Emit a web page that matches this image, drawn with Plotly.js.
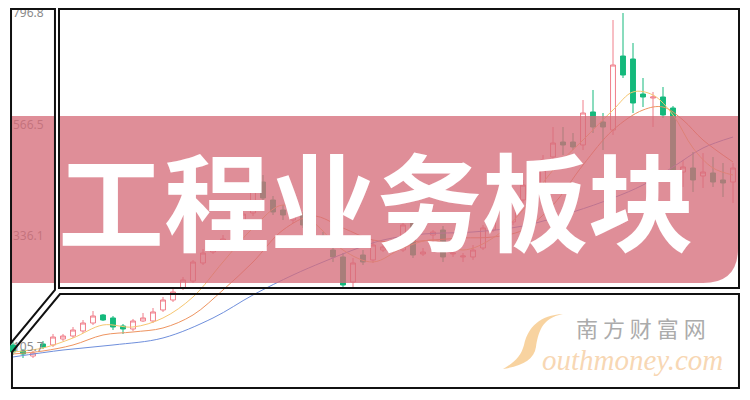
<!DOCTYPE html>
<html>
<head>
<meta charset="utf-8">
<script src="https://cdn.plot.ly/plotly-3.0.1.min.js"></script>
<style>
html,body{margin:0;padding:0;background:#fff;}
#chart{width:750px;height:400px;}
</style>
</head>
<body>
<div id="chart"></div>
<script>
// ---- data ----
const idx = Array.from({length: 73}, (_, i) => i);
const openV  = [109.9,97.5,87.1,112.0,109.9,122.3,128.5,138.9,155.4,172.0,165.8,149.2,143.0,159.6,159.6,182.3,203.0,227.8,242.3,279.6,302.3,310.0,329.2,352.0,383.0,447.1,409.9,389.2,368.5,378.9,358.2,335.4,306.4,292.0,240.2,296.1,285.8,306.4,316.8,306.4,364.4,298.2,337.5,347.8,298.2,292.0,292.0,310.6,347.8,378.9,364.4,409.9,440.9,430.6,498.9,529.9,529.9,523.7,592.0,571.3,554.7,707.8,701.6,629.2,620.9,623.0,600.2,467.8,476.1,459.6,465.8,451.3,447.1];
const closeV = [95.4,91.3,93.3,105.8,126.4,128.5,140.9,155.4,169.9,161.6,147.1,143.0,159.6,165.8,178.2,203.0,219.6,244.4,281.6,300.2,308.5,329.2,352.0,380.9,430.6,414.0,385.1,378.9,383.0,358.2,341.6,323.0,292.0,234.0,279.6,281.6,316.8,312.7,306.4,358.2,296.1,302.3,343.7,292.0,300.2,294.0,306.4,352.0,378.9,364.4,409.9,440.9,426.5,492.7,527.8,523.7,519.6,589.9,560.9,560.9,689.2,668.5,610.6,623.0,623.0,585.8,472.0,478.2,451.3,467.8,447.1,445.1,476.1];
const highV  = [116.1,101.6,97.5,118.2,132.7,132.7,147.1,161.6,180.2,174.0,169.9,153.3,163.7,176.1,186.4,209.2,227.8,250.6,285.8,308.5,314.7,337.5,358.2,389.2,447.1,461.6,418.2,399.6,391.3,385.1,362.3,343.7,314.7,300.2,289.9,306.4,327.1,318.9,323.0,368.5,378.9,310.6,347.8,356.1,306.4,300.2,316.8,358.2,385.1,389.2,418.2,451.3,451.3,503.0,560.9,560.9,548.5,616.8,637.5,589.9,782.3,796.8,734.7,662.3,633.4,643.7,604.4,492.7,509.2,507.1,498.9,486.5,486.5];
const lowV   = [89.2,83.0,83.0,101.6,105.8,118.2,124.4,134.7,151.3,159.6,140.9,132.7,138.9,157.5,155.4,178.2,198.9,223.7,238.2,275.4,298.2,306.0,323.0,347.8,376.8,409.9,378.9,368.5,362.3,352.0,335.4,316.8,281.6,227.8,229.9,275.4,279.6,302.3,302.3,302.3,289.9,294.0,316.8,281.6,292.0,281.6,285.8,306.4,343.7,358.2,358.2,403.7,418.2,424.4,482.3,503.0,513.3,513.3,548.5,513.3,544.4,662.3,589.9,602.3,560.9,579.6,461.6,436.8,426.5,434.7,436.8,416.1,403.7];

const ma5X  = [0,3,6,9,12,15,18,21,24,27,30,33,36,39,42,45,48,51,54,57,60,62,64,66,68,70,72];
const ma5Y  = [95.4,103.7,124.4,151.3,147.1,165.8,209.2,281.6,352.0,399.6,364.4,306.4,281.6,310.6,327.1,306.4,331.3,389.2,472.0,534.0,596.1,633.4,627.1,585.8,517.5,476.1,461.6];
const ma10X = [0,3,6,9,12,15,18,21,24,27,30,33,36,39,42,45,48,51,54,57,60,63,65,67,69,72];
const ma10Y = [91.3,97.5,109.9,130.6,136.8,145.1,172.0,223.7,281.6,347.8,376.8,352.0,327.1,323.0,327.1,331.3,333.3,347.8,399.6,482.3,554.7,596.1,602.3,575.4,534.0,488.5];
const ma30X = [0,5,10,15,20,24,28,31,34,37,41,46,51,56,60,63,66,69,72];
const ma30Y = [85.1,99.5,109.9,124.4,165.8,213.4,254.7,281.6,306.4,327.1,339.5,343.7,356.1,385.1,414.0,440.9,478.2,517.5,540.2];

const yTicks = [796.8, 566.5, 336.1, 105.7];
const bannerText = '工程业务板块';
const brandCn = '南 方 财 富 网';
const brandEn = 'outhmoney.com';

// ---- geometry helpers (pixel -> paper) ----
const W = 750, H = 400, ML = 10, MR = 10, MT = 0, MB = 12;
const PW = W - ML - MR, PH = H - MT - MB;
const px = x => (x - ML) / PW;
const py = y => (H - MB - y) / PH;
const pt = (x, y) => px(x).toFixed(4) + ',' + py(y).toFixed(4);

const traces = [
  {type:'scatter', mode:'lines', x: ma30X, y: ma30Y, line:{color:'#6f8fdc', width:1, shape:'spline'}, hoverinfo:'skip'},
  {type:'scatter', mode:'lines', x: ma10X, y: ma10Y, line:{color:'#ee9460', width:1, shape:'spline'}, hoverinfo:'skip'},
  {type:'scatter', mode:'lines', x: ma5X,  y: ma5Y,  line:{color:'#f6c670', width:1, shape:'spline'}, hoverinfo:'skip'},
  {type:'candlestick', x: idx, open: openV, high: highV, low: lowV, close: closeV,
   increasing:{line:{color:'#f07e8a', width:1}, fillcolor:'#ffffff'},
   decreasing:{line:{color:'#14b97c', width:1}, fillcolor:'#14b97c'},
   whiskerwidth: 0, hoverinfo:'skip'}
];

const frame = {color:'#111', width:2};
const bannerFill = 'rgba(214,108,121,0.77)';
const shapes = [
  // translucent red banner, left piece
  {type:'rect', xref:'paper', yref:'paper', layer:'above',
   x0:px(11), x1:px(55), y0:py(283), y1:py(116), fillcolor:bannerFill, line:{width:0}},
  // main piece with rounded bottom-right corner
  {type:'path', xref:'paper', yref:'paper', layer:'above',
   path:'M'+pt(59,116)+' L'+pt(738,116)+' L'+pt(738,248)+' Q'+pt(738,283)+' '+pt(703,283)+' L'+pt(59,283)+' Z',
   fillcolor:bannerFill, line:{width:0}},
  // frames
  {type:'path', xref:'paper', yref:'paper', layer:'above',
   path:'M'+pt(11,9)+' L'+pt(55,9)+' L'+pt(55,290)+' L'+pt(11,343)+' Z', line:frame},
  {type:'rect', xref:'paper', yref:'paper', layer:'above',
   x0:px(59), x1:px(739), y0:py(288), y1:py(9), line:frame},
  {type:'path', xref:'paper', yref:'paper', layer:'above',
   path:'M'+pt(60,294)+' L'+pt(739,294)+' L'+pt(739,388)+' L'+pt(12,388)+' L'+pt(12,352)+' Z', line:frame},
  // watermark swoosh "S"
  {type:'path', xref:'paper', yref:'paper', layer:'above',
   path:'M'+pt(563,314)+' C'+pt(541,318)+' '+pt(538,334)+' '+pt(536,347)+' C'+pt(534,360)+' '+pt(522,366)+' '+pt(503,369)+
        ' C'+pt(515,362)+' '+pt(521,356)+' '+pt(524,345)+' C'+pt(528,327)+' '+pt(540,315)+' '+pt(563,314)+' Z',
   fillcolor:'rgba(246,196,128,0.75)', line:{width:0}}
];

const annotations = [
  {xref:'paper', yref:'paper', x:px(376), y:py(197), xanchor:'center', yanchor:'middle', showarrow:false,
   text:'<b>'+bannerText+'</b>', font:{family:'Noto Sans CJK SC', size:106, color:'#ffffff'}},
  {xref:'paper', yref:'paper', x:px(641), y:py(327), xanchor:'center', yanchor:'middle', showarrow:false,
   text:brandCn, font:{family:'Noto Sans CJK SC', size:22, color:'#ababab'}},
  {xref:'paper', yref:'paper', x:px(632), y:py(360), xanchor:'center', yanchor:'middle', showarrow:false,
   text:'<i>'+brandEn+'</i>', font:{family:'Liberation Serif', size:29, color:'rgba(246,205,160,0.8)'}}
];

const layout = {
  width: W, height: H,
  margin:{l:ML, r:MR, t:MT, b:MB},
  paper_bgcolor:'#ffffff', plot_bgcolor:'#ffffff',
  showlegend:false,
  xaxis:{range:[-0.3, 72.7], visible:false, rangeslider:{visible:false}, fixedrange:true},
  yaxis:{range:[20.9, 823.7], tickvals:yTicks, ticklabelposition:'inside', ticks:'',
         showgrid:false, zeroline:false, showline:false,
         tickfont:{family:'Noto Sans', size:12, color:'#8a8a8a'}},
  shapes: shapes,
  annotations: annotations
};

Plotly.newPlot('chart', traces, layout, {staticPlot:true, displayModeBar:false});
</script>
</body>
</html>
